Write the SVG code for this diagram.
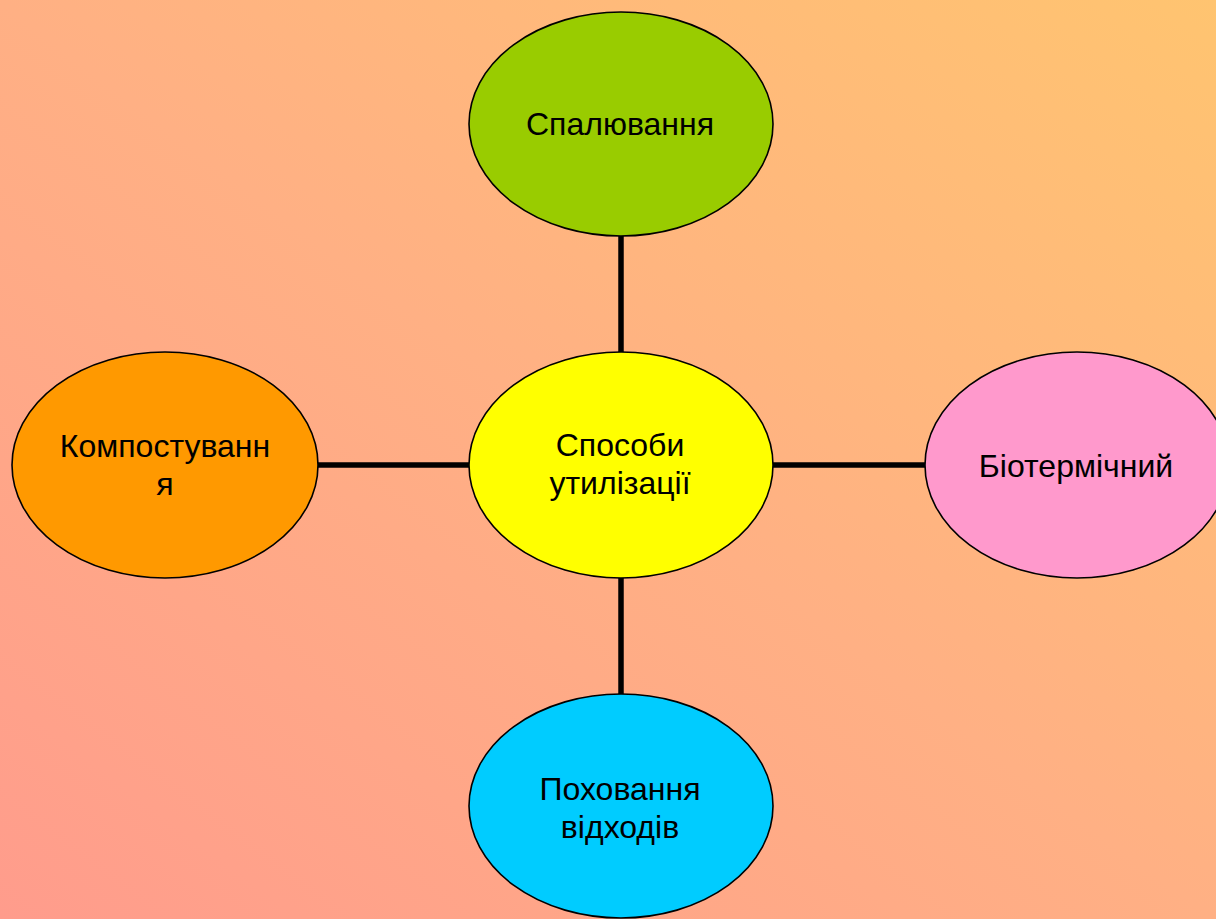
<svg xmlns="http://www.w3.org/2000/svg" width="1216" height="919" viewBox="0 0 1216 919">
<defs>
<linearGradient id="bg" x1="0" y1="1" x2="1" y2="0">
<stop offset="0" stop-color="#FF9C8C"/>
<stop offset="0.5" stop-color="#FFB084"/>
<stop offset="1" stop-color="#FFC470"/>
</linearGradient>
<style>
.node ellipse{stroke:#000;stroke-width:1.6}
.node text{font-family:"Liberation Sans",Arial,sans-serif;font-size:32px;fill:#000;text-anchor:middle}
.conn line{stroke:#000;stroke-width:5.5}
</style>
</defs>
<rect x="0" y="0" width="1216" height="919" fill="url(#bg)"/>
<g id="connectors" class="conn">
<line x1="621" y1="236" x2="621" y2="352"/>
<line x1="621" y1="578" x2="621" y2="694"/>
<line x1="318" y1="465" x2="469" y2="465"/>
<line x1="773" y1="465" x2="925" y2="465"/>
</g>
<g id="node-top" class="node">
<ellipse cx="621" cy="124" rx="152" ry="112" fill="#99CC00"/>
<text x="620" y="135">Спалювання</text>
</g>
<g id="node-center" class="node">
<ellipse cx="621" cy="465" rx="152" ry="113" fill="#FFFF00"/>
<text x="620" y="456">Способи</text>
<text x="620" y="494">утилізації</text>
</g>
<g id="node-left" class="node">
<ellipse cx="165" cy="465" rx="153" ry="113" fill="#FF9900"/>
<text x="165" y="457">Компостуванн</text>
<text x="165" y="495">я</text>
</g>
<g id="node-right" class="node">
<ellipse cx="1077" cy="465" rx="152" ry="113" fill="#FF99CC"/>
<text x="1076" y="477">Біотермічний</text>
</g>
<g id="node-bottom" class="node">
<ellipse cx="621" cy="806" rx="152" ry="112" fill="#00CCFF"/>
<text x="620" y="800">Поховання</text>
<text x="620" y="838">відходів</text>
</g>
</svg>
